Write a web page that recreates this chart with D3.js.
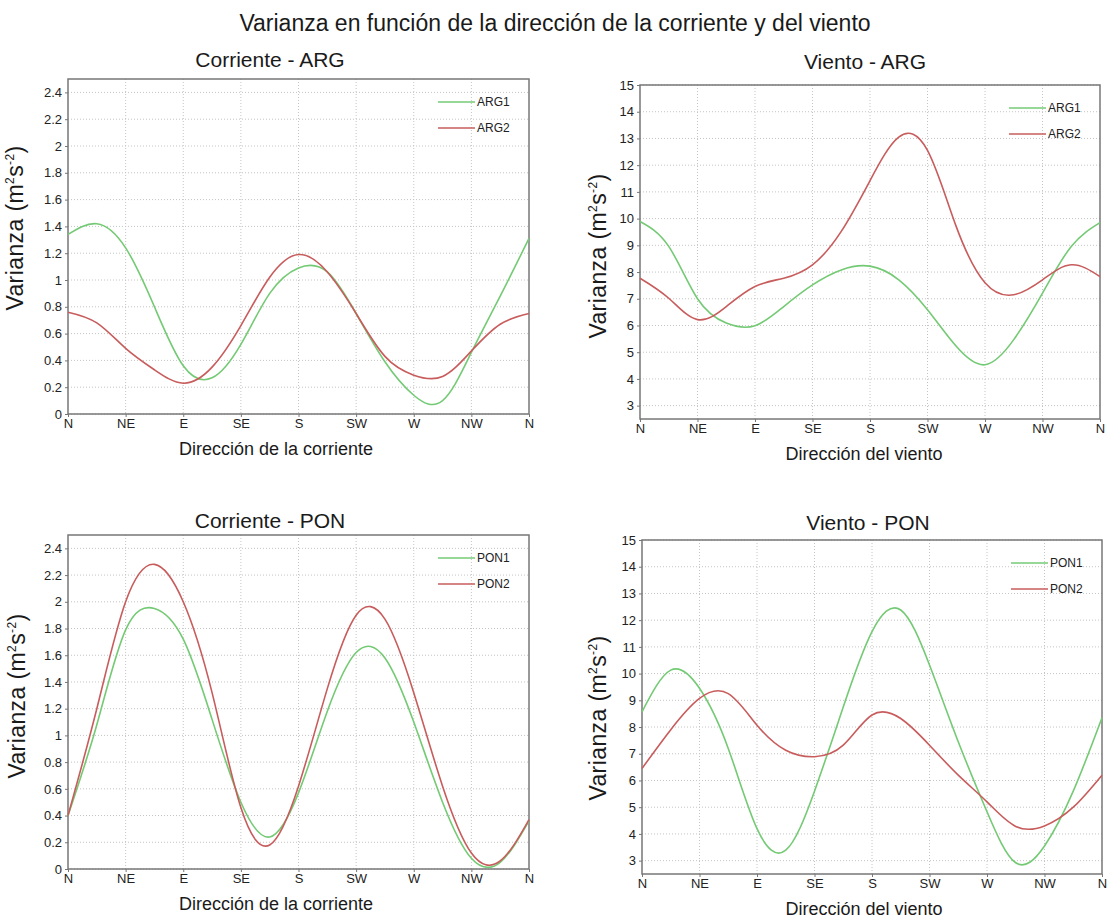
<!DOCTYPE html>
<html>
<head>
<meta charset="utf-8">
<script src="https://cdn.jsdelivr.net/npm/d3@7"></script>
<style>
  body { margin: 0; background: #fff; }
  svg { font-family: "Liberation Sans", Arial, sans-serif; }
</style>
</head>
<body>
<svg id="chart" width="1109" height="921"></svg>
<script>
  // direction (degrees from N) of every sample
  const directions = [0, 22.5, 45, 67.5, 90, 112.5, 135, 157.5, 180, 202.5, 225, 247.5, 270, 292.5, 315, 337.5, 360];
  const dirTicks = [0, 45, 90, 135, 180, 225, 270, 315, 360];
  const dirLabels = ['N', 'NE', 'E', 'SE', 'S', 'SW', 'W', 'NW', 'N'];
  const corrienteTicks = [0, 0.2, 0.4, 0.6, 0.8, 1, 1.2, 1.4, 1.6, 1.8, 2, 2.2, 2.4];
  const vientoTicks = [3, 4, 5, 6, 7, 8, 9, 10, 11, 12, 13, 14, 15];

  // varianza (m2 s-2)
  const corrienteArg1 = [1.34, 1.42, 1.24, 0.80, 0.36, 0.27, 0.52, 0.90, 1.09, 1.06, 0.75, 0.39, 0.14, 0.10, 0.46, 0.88, 1.31];
  const corrienteArg2 = [0.76, 0.68, 0.49, 0.33, 0.23, 0.35, 0.66, 1.02, 1.19, 1.06, 0.75, 0.43, 0.29, 0.28, 0.47, 0.67, 0.75];
  const vientoArg1 = [9.89, 8.96, 7.0, 6.09, 5.99, 6.71, 7.52, 8.08, 8.22, 7.71, 6.59, 5.22, 4.53, 5.47, 7.21, 8.96, 9.85];
  const vientoArg2 = [7.77, 7.02, 6.22, 6.71, 7.46, 7.77, 8.27, 9.52, 11.42, 13.05, 12.55, 9.7, 7.6, 7.15, 7.71, 8.27, 7.83];
  const corrientePon1 = [0.40, 1.08, 1.79, 1.95, 1.72, 1.12, 0.50, 0.24, 0.57, 1.18, 1.62, 1.58, 1.10, 0.50, 0.08, 0.05, 0.36];
  const corrientePon2 = [0.40, 1.20, 2.00, 2.28, 2.00, 1.32, 0.46, 0.18, 0.62, 1.35, 1.90, 1.87, 1.32, 0.62, 0.12, 0.06, 0.37];
  const vientoPon1 = [8.57, 10.13, 9.45, 7.2, 4.2, 3.39, 5.6, 8.75, 11.57, 12.38, 10.32, 7.45, 4.83, 2.92, 3.55, 5.6, 8.35];
  const vientoPon2 = [6.45, 7.9, 9.07, 9.25, 8.07, 7.13, 6.89, 7.32, 8.45, 8.32, 7.32, 6.2, 5.2, 4.28, 4.3, 5.0, 6.2];

  const colors = ['#74ca74', '#c85c5c'];

  const panels = [
    {title: 'Corriente - ARG', xLabel: 'Dirección de la corriente', names: ['ARG1', 'ARG2'],
     series: [corrienteArg1, corrienteArg2], yDomain: [0, 2.5], yTicks: corrienteTicks,
     box: {left: 68, right: 529, top: 79, bottom: 414}, titleX: 270, titleY: 67, xLabelX: 276, yLabelX: 23, yLabelY: 228},
    {title: 'Viento - ARG', xLabel: 'Dirección del viento', names: ['ARG1', 'ARG2'],
     series: [vientoArg1, vientoArg2], yDomain: [2.5, 15], yTicks: vientoTicks,
     box: {left: 640, right: 1100, top: 85, bottom: 419}, titleX: 865, titleY: 69, xLabelX: 864, yLabelX: 606, yLabelY: 256},
    {title: 'Corriente - PON', xLabel: 'Dirección de la corriente', names: ['PON1', 'PON2'],
     series: [corrientePon1, corrientePon2], yDomain: [0, 2.5], yTicks: corrienteTicks,
     box: {left: 68, right: 529, top: 535, bottom: 869}, titleX: 270, titleY: 528, xLabelX: 276, yLabelX: 25, yLabelY: 696},
    {title: 'Viento - PON', xLabel: 'Dirección del viento', names: ['PON1', 'PON2'],
     series: [vientoPon1, vientoPon2], yDomain: [2.5, 15], yTicks: vientoTicks,
     box: {left: 642, right: 1102, top: 540, bottom: 874}, titleX: 868, titleY: 530, xLabelX: 864, yLabelX: 606, yLabelY: 718}
  ];

  const svg = d3.select('#chart');

  svg.append('text')
    .attr('x', 555).attr('y', 31)
    .attr('text-anchor', 'middle')
    .attr('font-size', 23)
    .attr('fill', '#1a1a1a')
    .text('Varianza en función de la dirección de la corriente y del viento');

  panels.forEach(p => {
    const b = p.box;
    const x = d3.scaleLinear().domain([0, 360]).range([b.left, b.right]);
    const y = d3.scaleLinear().domain(p.yDomain).range([b.bottom, b.top]);
    const g = svg.append('g');

    // dotted grid
    g.append('g').selectAll('line')
      .data(p.yTicks)
      .join('line')
        .attr('x1', b.left).attr('x2', b.right)
        .attr('y1', d => y(d)).attr('y2', d => y(d))
        .attr('stroke', '#c4c4c4').attr('stroke-dasharray', '1,2');
    g.append('g').selectAll('line')
      .data(dirTicks.slice(1, -1))
      .join('line')
        .attr('x1', d => x(d)).attr('x2', d => x(d))
        .attr('y1', b.top).attr('y2', b.bottom)
        .attr('stroke', '#c4c4c4').attr('stroke-dasharray', '1,2');

    // axes
    const yAxis = g.append('g')
      .attr('transform', `translate(${b.left},0)`)
      .call(d3.axisLeft(y).tickValues(p.yTicks).tickSize(3).tickPadding(3).tickFormat(d => String(d)));
    const xAxis = g.append('g')
      .attr('transform', `translate(0,${b.bottom})`)
      .call(d3.axisBottom(x).tickValues(dirTicks).tickSize(3).tickPadding(2).tickFormat((d, i) => dirLabels[i]));
    [yAxis, xAxis].forEach(a => {
      a.select('.domain').remove();
      a.selectAll('line').attr('stroke', '#777');
      a.selectAll('text').attr('font-size', 13).attr('fill', '#222')
        .attr('font-family', '"Liberation Sans", Arial, sans-serif');
    });

    // frame
    g.append('rect')
      .attr('x', b.left).attr('y', b.top)
      .attr('width', b.right - b.left).attr('height', b.bottom - b.top)
      .attr('fill', 'none').attr('stroke', '#777').attr('stroke-width', 1.5);

    // curves
    const line = d3.line()
      .x((d, i) => x(directions[i]))
      .y(d => y(d))
      .curve(d3.curveNatural);
    p.series.forEach((s, k) => {
      g.append('path')
        .datum(s)
        .attr('fill', 'none')
        .attr('stroke', colors[k])
        .attr('stroke-width', 1.6)
        .attr('d', line);
    });

    // legend
    p.names.forEach((name, k) => {
      const ly = b.top + 23 + k * 26;
      g.append('line')
        .attr('x1', b.right - 91).attr('x2', b.right - 54)
        .attr('y1', ly).attr('y2', ly)
        .attr('stroke', colors[k]).attr('stroke-width', 1.6);
      g.append('text')
        .attr('x', b.right - 52).attr('y', ly + 4)
        .attr('font-size', 12).attr('fill', '#222')
        .text(name);
    });

    // titles
    g.append('text')
      .attr('x', p.titleX).attr('y', p.titleY)
      .attr('text-anchor', 'middle')
      .attr('font-size', 21).attr('fill', '#1a1a1a')
      .text(p.title);
    g.append('text')
      .attr('x', p.xLabelX).attr('y', b.bottom + 41)
      .attr('text-anchor', 'middle')
      .attr('font-size', 18).attr('fill', '#1a1a1a')
      .text(p.xLabel);

    const yl = g.append('text')
      .attr('transform', `translate(${p.yLabelX},${p.yLabelY}) rotate(-90)`)
      .attr('text-anchor', 'middle')
      .attr('font-size', 23).attr('letter-spacing', 0.4).attr('fill', '#1a1a1a');
    yl.append('tspan').text('Varianza (m');
    yl.append('tspan').attr('font-size', 12).attr('dy', -9).text('2');
    yl.append('tspan').attr('dy', 9).text('s');
    yl.append('tspan').attr('font-size', 12).attr('dy', -9).text('-2');
    yl.append('tspan').attr('dy', 9).text(')');
  });
</script>
</body>
</html>
